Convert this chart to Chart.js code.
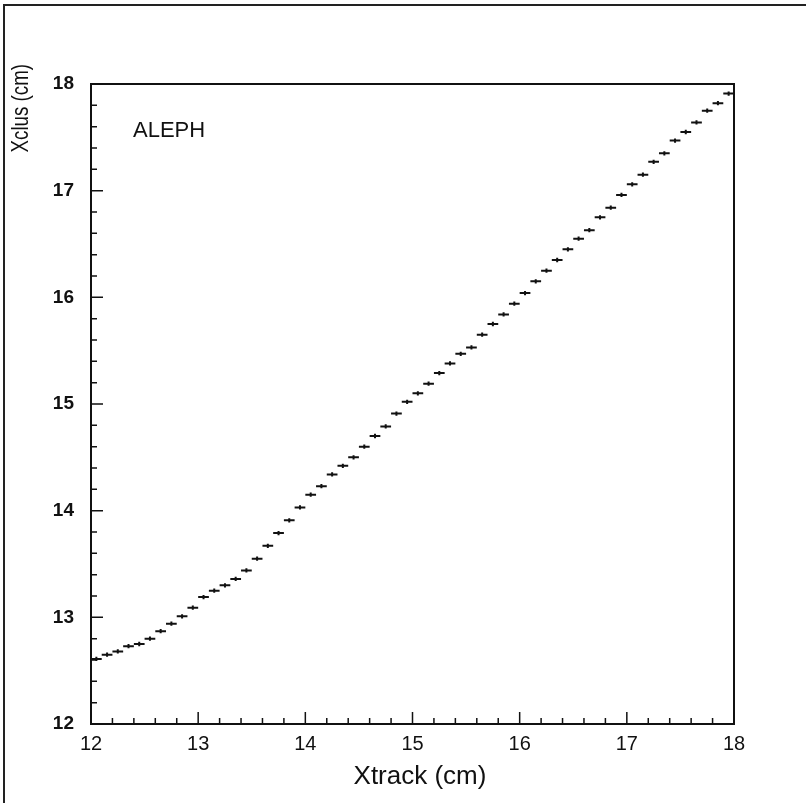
<!DOCTYPE html>
<html>
<head>
<meta charset="utf-8">
<script src="https://cdn.jsdelivr.net/npm/chart.js@4/dist/chart.umd.min.js"></script>
<style>
  html, body { margin: 0; padding: 0; background: #fff; }
  #wrap { width: 806px; height: 803px; }
</style>
</head>
<body>
<div id="wrap"><canvas id="xclusChart" width="806" height="803"></canvas></div>
<script>
// bin centres (Xtrack, cm) and mean Xclus per bin (cm)
const xCenters = [
  12.05, 12.15, 12.25, 12.35, 12.45, 12.55, 12.65, 12.75, 12.85, 12.95,
  13.05, 13.15, 13.25, 13.35, 13.45, 13.55, 13.65, 13.75, 13.85, 13.95,
  14.05, 14.15, 14.25, 14.35, 14.45, 14.55, 14.65, 14.75, 14.85, 14.95,
  15.05, 15.15, 15.25, 15.35, 15.45, 15.55, 15.65, 15.75, 15.85, 15.95,
  16.05, 16.15, 16.25, 16.35, 16.45, 16.55, 16.65, 16.75, 16.85, 16.95,
  17.05, 17.15, 17.25, 17.35, 17.45, 17.55, 17.65, 17.75, 17.85, 17.95
];
const xclusMean = [
  12.61, 12.65, 12.68, 12.73, 12.75, 12.80, 12.87, 12.94, 13.01, 13.09,
  13.19, 13.25, 13.30, 13.36, 13.44, 13.55, 13.67, 13.79, 13.91, 14.03,
  14.15, 14.23, 14.34, 14.42, 14.50, 14.60, 14.70, 14.79, 14.91, 15.02,
  15.10, 15.19, 15.29, 15.38, 15.47, 15.53, 15.65, 15.75, 15.84, 15.94,
  16.04, 16.15, 16.25, 16.35, 16.45, 16.55, 16.63, 16.75, 16.84, 16.96,
  17.06, 17.15, 17.27, 17.35, 17.47, 17.55, 17.64, 17.75, 17.82, 17.91
];
const binHalfWidth = 0.05;
const yErr = 0.02;
const axisTicks = [12, 13, 14, 15, 16, 17, 18];

const FONT = '"Liberation Sans", Arial, sans-serif';

const points = xCenters.map((x, i) => ({ x: x, y: xclusMean[i] }));

// outer frame, box, inward ticks, text
const decor = {
  id: 'decor',
  beforeDraw(chart) {
    const c = chart.ctx;
    c.save();
    c.fillStyle = '#fff';
    c.fillRect(0, 0, chart.width, chart.height);
    c.strokeStyle = '#222';
    c.lineWidth = 2;
    c.beginPath();
    c.moveTo(4, chart.height);
    c.lineTo(4, 5);
    c.lineTo(chart.width, 5);
    c.stroke();
    c.restore();
  },
  afterDraw(chart) {
    const c = chart.ctx;
    const a = chart.chartArea;
    const xs = chart.scales.x, ys = chart.scales.y;
    c.save();
    c.strokeStyle = '#111';
    c.lineWidth = 2;
    c.strokeRect(a.left, a.top, a.right - a.left, a.bottom - a.top);
    c.lineWidth = 1.5;
    c.beginPath();
    for (let k = 0; k <= 30; k++) {
      const v = 12 + k * 0.2;
      const major = k % 5 === 0;
      const len = major ? 12 : 6;
      const px = xs.getPixelForValue(v);
      c.moveTo(px, a.bottom);
      c.lineTo(px, a.bottom - len);
      const py = ys.getPixelForValue(v);
      c.moveTo(a.left, py);
      c.lineTo(a.left + len, py);
    }
    c.stroke();

    c.fillStyle = '#111';
    c.font = '22px ' + FONT;
    c.textAlign = 'left';
    c.textBaseline = 'middle';
    c.fillText('ALEPH', 133, 131);

    c.font = '26px ' + FONT;
    c.textAlign = 'center';
    c.fillText('Xtrack (cm)', 420, 777);

    c.translate(21, a.top - 20);
    c.rotate(-Math.PI / 2);
    c.scale(0.78, 1);
    c.font = '24px ' + FONT;
    c.textAlign = 'right';
    c.textBaseline = 'middle';
    c.fillText('Xclus (cm)', 0, 0);
    c.restore();
  }
};

// horizontal bin-width bars with small vertical errors
const errorBars = {
  id: 'errorBars',
  afterDatasetsDraw(chart) {
    const c = chart.ctx;
    const xs = chart.scales.x, ys = chart.scales.y;
    const data = chart.data.datasets[0].data;
    c.save();
    c.strokeStyle = '#111';
    c.lineWidth = 2;
    c.beginPath();
    data.forEach(p => {
      const x0 = xs.getPixelForValue(p.x - binHalfWidth);
      const x1 = xs.getPixelForValue(p.x + binHalfWidth);
      const xm = xs.getPixelForValue(p.x);
      const y = ys.getPixelForValue(p.y);
      c.moveTo(x0, y);
      c.lineTo(x1, y);
      c.moveTo(xm, ys.getPixelForValue(p.y - yErr));
      c.lineTo(xm, ys.getPixelForValue(p.y + yErr));
    });
    c.stroke();
    c.restore();
  }
};

new Chart(document.getElementById('xclusChart').getContext('2d'), {
  type: 'scatter',
  data: { datasets: [{ label: 'Xclus', data: points, pointRadius: 0, showLine: false }] },
  options: {
    responsive: false,
    animation: false,
    devicePixelRatio: 1,
    layout: { padding: { left: 0, top: 84, right: 72, bottom: 0 } },
    plugins: { legend: { display: false }, tooltip: { enabled: false } },
    scales: {
      x: {
        type: 'linear', min: 12, max: 18,
        afterFit: s => { s.height = 79; },
        afterBuildTicks: s => { s.ticks = axisTicks.map(v => ({ value: v })); },
        grid: { display: false, drawTicks: false },
        border: { display: false },
        ticks: { color: '#111', padding: 8, maxRotation: 0, font: { family: FONT, size: 20 } }
      },
      y: {
        type: 'linear', min: 12, max: 18,
        afterFit: s => { s.width = 91; },
        afterBuildTicks: s => { s.ticks = axisTicks.map(v => ({ value: v })); },
        grid: { display: false, drawTicks: false },
        border: { display: false },
        ticks: { color: '#111', padding: 17, font: { family: FONT, size: 19, weight: 'bold' } }
      }
    }
  },
  plugins: [decor, errorBars]
});
</script>
</body>
</html>
